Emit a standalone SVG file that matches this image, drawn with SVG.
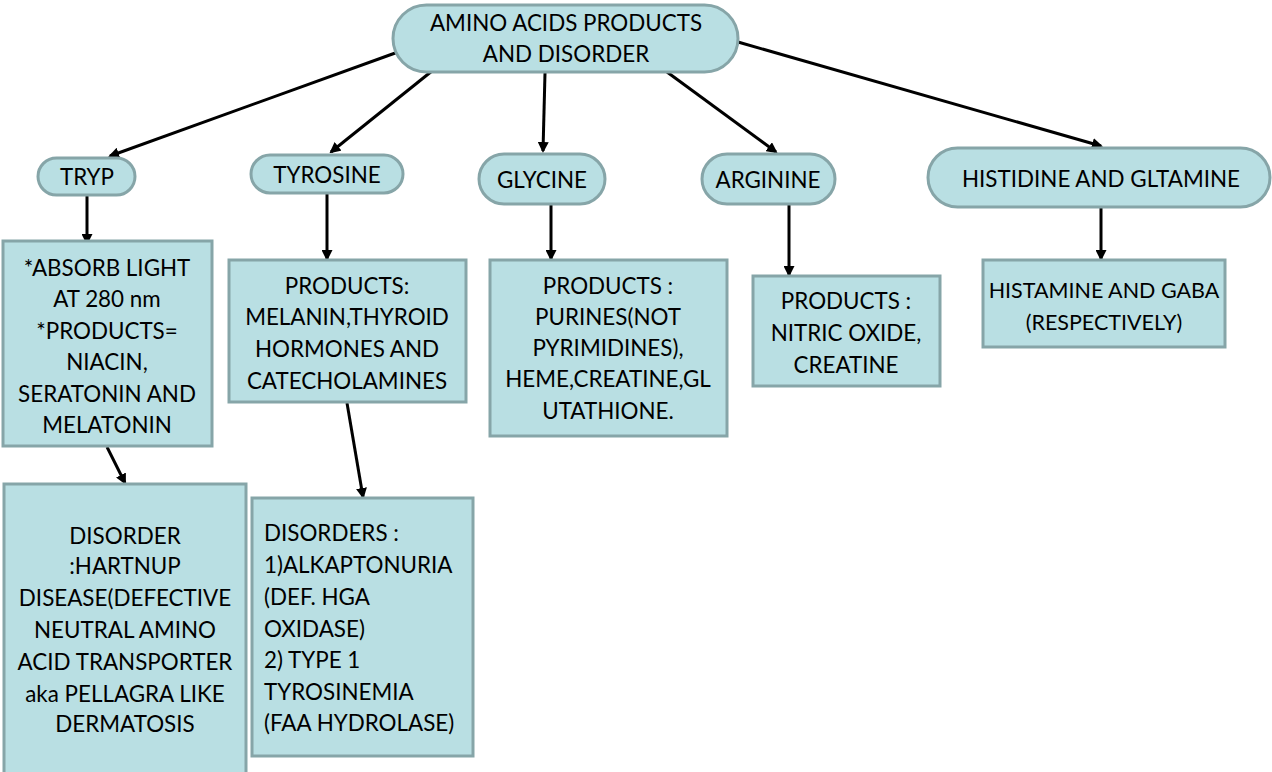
<svg xmlns="http://www.w3.org/2000/svg" width="1272" height="772" viewBox="0 0 1272 772">
<defs>
<style>
.n{fill:#b9dfe3;stroke:#86a5a8;stroke-width:3}
.t{font-family:Lato,"Open Sans",sans-serif;font-size:22.4px;fill:#000;text-anchor:middle}
.s{font-size:21.5px}
.l{text-anchor:start}
.c{stroke:#000;stroke-width:3;fill:none;marker-end:url(#a)}
</style>
<marker id="a" markerWidth="11" markerHeight="11" refX="9" refY="5.5" orient="auto" markerUnits="userSpaceOnUse" viewBox="0 0 11 11">
<path d="M0,0 L11,5.5 L0,11 Z" fill="#000"/>
</marker>
</defs>
<rect width="1272" height="772" fill="#fff"/>
<g id="connectors">
<line class="c" x1="398" y1="52" x2="110" y2="156"/>
<line class="c" x1="432" y1="71" x2="331" y2="152"/>
<line class="c" x1="545" y1="73" x2="543" y2="151"/>
<line class="c" x1="667" y1="72" x2="776" y2="152"/>
<line class="c" x1="738" y1="42" x2="1101" y2="146"/>
<line class="c" x1="87" y1="196" x2="87" y2="243"/>
<line class="c" x1="327" y1="194" x2="327" y2="259"/>
<line class="c" x1="551" y1="205" x2="551" y2="259"/>
<line class="c" x1="789" y1="205" x2="789" y2="275"/>
<line class="c" x1="1101" y1="208" x2="1101" y2="259"/>
<line class="c" x1="107" y1="447" x2="125" y2="483"/>
<line class="c" x1="347" y1="403" x2="363" y2="497"/>
</g>
<g id="root">
<rect class="n" x="393" y="5" width="345" height="67" rx="33.5"/>
<text class="t" x="566" y="31">AMINO ACIDS PRODUCTS</text>
<text class="t" x="566" y="62">AND DISORDER</text>
</g>
<g id="tryp">
<rect class="n" x="38" y="158" width="97" height="37" rx="18.5"/>
<text class="t" x="87" y="185">TRYP</text>
</g>
<g id="tyrosine">
<rect class="n" x="251" y="155" width="152" height="38" rx="19"/>
<text class="t" x="327" y="183">TYROSINE</text>
</g>
<g id="glycine">
<rect class="n" x="479" y="154" width="126" height="50" rx="25"/>
<text class="t" x="542" y="188">GLYCINE</text>
</g>
<g id="arginine">
<rect class="n" x="702" y="154" width="133" height="50" rx="25"/>
<text class="t" x="768" y="188">ARGININE</text>
</g>
<g id="histidine">
<rect class="n" x="928" y="148" width="342" height="59" rx="29.5"/>
<text class="t" x="1101" y="187">HISTIDINE AND GLTAMINE</text>
</g>
<g id="tryp-products">
<rect class="n" x="3" y="241" width="209" height="205"/>
<text class="t" x="107" y="276">*ABSORB LIGHT</text>
<text class="t" x="107" y="307">AT 280 nm</text>
<text class="t" x="107" y="339">*PRODUCTS=</text>
<text class="t" x="107" y="370">NIACIN,</text>
<text class="t" x="107" y="402">SERATONIN AND</text>
<text class="t" x="107" y="433">MELATONIN</text>
</g>
<g id="tyrosine-products">
<rect class="n" x="229" y="260" width="237" height="142"/>
<text class="t" x="347" y="294">PRODUCTS:</text>
<text class="t" x="347" y="325">MELANIN,THYROID</text>
<text class="t" x="347" y="357">HORMONES AND</text>
<text class="t" x="347" y="389">CATECHOLAMINES</text>
</g>
<g id="glycine-products">
<rect class="n" x="490" y="260" width="237" height="176"/>
<text class="t" x="608" y="294">PRODUCTS :</text>
<text class="t" x="608" y="325">PURINES(NOT</text>
<text class="t" x="608" y="356">PYRIMIDINES),</text>
<text class="t" x="608" y="387">HEME,CREATINE,GL</text>
<text class="t" x="608" y="419">UTATHIONE.</text>
</g>
<g id="arginine-products">
<rect class="n" x="753" y="276" width="187" height="110"/>
<text class="t" x="846" y="309">PRODUCTS :</text>
<text class="t" x="846" y="341">NITRIC OXIDE,</text>
<text class="t" x="846" y="373">CREATINE</text>
</g>
<g id="histidine-products">
<rect class="n" x="983" y="260" width="242" height="87"/>
<text class="t s" x="1104" y="298">HISTAMINE AND GABA</text>
<text class="t s" x="1104" y="330">(RESPECTIVELY)</text>
</g>
<g id="tryp-disorder">
<rect class="n" x="4" y="484" width="242" height="290"/>
<text class="t" x="125" y="544">DISORDER</text>
<text class="t" x="125" y="574">:HARTNUP</text>
<text class="t" x="125" y="606">DISEASE(DEFECTIVE</text>
<text class="t" x="125" y="638">NEUTRAL AMINO</text>
<text class="t" x="125" y="670">ACID TRANSPORTER</text>
<text class="t" x="125" y="702">aka PELLAGRA LIKE</text>
<text class="t" x="125" y="732">DERMATOSIS</text>
</g>
<g id="tyrosine-disorders">
<rect class="n" x="252" y="498" width="221" height="258"/>
<text class="t l" x="264" y="541">DISORDERS :</text>
<text class="t l" x="264" y="573">1)ALKAPTONURIA</text>
<text class="t l" x="264" y="605">(DEF. HGA</text>
<text class="t l" x="264" y="637">OXIDASE)</text>
<text class="t l" x="264" y="668">2) TYPE 1</text>
<text class="t l" x="264" y="700">TYROSINEMIA</text>
<text class="t l" x="264" y="731">(FAA HYDROLASE)</text>
</g>
</svg>
